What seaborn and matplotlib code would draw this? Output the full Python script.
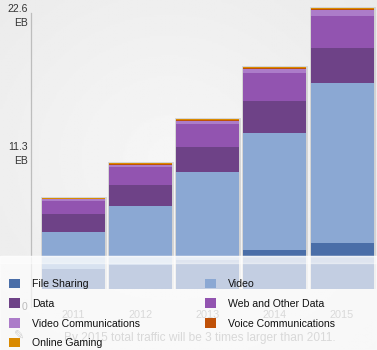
import numpy as np
import pandas as pd
import matplotlib
matplotlib.use("Agg")
import matplotlib.pyplot as plt
from matplotlib.patches import Rectangle
import seaborn as sns

# Traffic by application type, exabytes per month
years = ["2011", "2012", "2013", "2014", "2015"]
file_sharing = [1.60, 2.00, 2.40, 3.19, 3.77]
video = [3.09, 4.80, 7.16, 9.61, 13.08]
data = [1.45, 1.72, 2.10, 2.62, 2.87]
web_other = [1.06, 1.50, 1.88, 2.24, 2.65]
video_comm = [0.15, 0.14, 0.23, 0.37, 0.46]
voice_comm = [0.06, 0.06, 0.06, 0.06, 0.07]
online_gaming = [0.08, 0.08, 0.09, 0.09, 0.10]

series = [
    ("File Sharing", file_sharing, "#4a6ea8"),
    ("Video", video, "#8ba8d3"),
    ("Data", data, "#6e4287"),
    ("Web and Other Data", web_other, "#9254b0"),
    ("Video Communications", video_comm, "#ac7cc9"),
    ("Voice Communications", voice_comm, "#bf5108"),
    ("Online Gaming", online_gaming, "#d98a00"),
]
ytick_vals = [0, 11.3, 22.6]
ytick_labels = ["\n\n0", "11.3\nEB", "22.6\nEB"]
note = "By 2015 total traffic will be 3 times larger than 2011."

sns.set_theme(style="white")
plt.rcParams["font.family"] = ["Liberation Sans", "DejaVu Sans"]

W, H = 377, 350
fig = plt.figure(figsize=(W / 100, H / 100), dpi=100)
fig.patch.set_facecolor("#e9e9e9")

# soft radial background
bg = fig.add_axes([0, 0, 1, 1], zorder=-5)
yy, xx = np.mgrid[0:1:200j, 0:1:200j]
r = np.sqrt(((xx - 0.45) / 0.9) ** 2 + ((yy - 0.55) / 0.9) ** 2)
bg.imshow(0.965 - 0.06 * np.clip(r, 0, 1), cmap="gray", vmin=0, vmax=1,
          extent=[0, 1, 0, 1], aspect="auto", origin="lower")
bg.set_axis_off()

# plot area: x from px 31 to 377, zero line at px 289
ax = fig.add_axes([31 / W, (H - 289) / H, 346 / W, (289 - 5) / H])
ax.patch.set_alpha(0)

df = pd.DataFrame({"year": years})
totals = np.zeros(len(years))
for _, vals, _ in series:
    totals += np.array(vals)

bw = 0.94
# faint outline behind each stacked bar
sns.barplot(x=df["year"], y=totals, ax=ax, color="none", width=bw,
            edgecolor="#d2d2d2", linewidth=2.0, zorder=1)

bottom = np.zeros(len(years))
for name, vals, col in series:
    sns.barplot(x=df["year"], y=np.array(vals), bottom=bottom, ax=ax,
                color=col, width=bw, linewidth=0, saturation=1, zorder=2)
    bottom += np.array(vals)

ax.set_xlim(-0.633, 4.52)
ax.set_ylim(0, (289 - 5) / 12.21)
ax.set_xlabel("")
ax.set_ylabel("")
ax.set_yticks(ytick_vals)
ax.set_yticklabels(ytick_labels, fontsize=7.5, color="#333333",
                   linespacing=1.55)
for lab in ax.get_yticklabels():
    lab.set_horizontalalignment("right")
ax.tick_params(axis="y", length=0, pad=2.5)
ax.tick_params(axis="x", length=0, pad=15, labelsize=7.8, labelcolor="#8c8c8c")
for s in ["top", "right", "bottom"]:
    ax.spines[s].set_visible(False)
ax.spines["left"].set_color("#bdbdbd")
ax.spines["left"].set_linewidth(0.9)
ax.spines["left"].set_bounds(-1.5, 22.6)

# caption beneath the chart
fig.text(200 / W, 1 - 338 / H, note, ha="center", va="center",
         fontsize=8.6, color="#8c8c8c", zorder=0.5)
fig.text(19 / W, 1 - 335 / H, "\u270e", ha="center", va="center",
         fontsize=9, color="#7a7a7a", family="DejaVu Sans", zorder=0.5)

# translucent legend panel
fig.patches.append(Rectangle((0, 0), 1, (H - 256) / H, transform=fig.transFigure,
                             facecolor="white", alpha=0.67, zorder=1))
fig.patches.append(Rectangle((0, (H - 263) / H), 1, 7 / H, transform=fig.transFigure,
                             facecolor="white", alpha=0.45, zorder=1.1))

handles = {name: Rectangle((0, 0), 1, 1, facecolor=col, edgecolor="none")
           for name, _, col in series}
order = ["File Sharing", "Data", "Video Communications", "Online Gaming",
         "Video", "Web and Other Data", "Voice Communications"]
leg = fig.legend([handles[n] for n in order], order, ncol=2,
                 loc="upper left", bbox_to_anchor=(9 / W, 1 - 278.5 / H),
                 frameon=False, fontsize=7.6, handlelength=1.0,
                 handleheight=1.0, handletextpad=1.15, labelspacing=0.9,
                 columnspacing=6.2, borderpad=0, borderaxespad=0)
leg.set_zorder(5)
for t in leg.get_texts():
    t.set_color("#111111")

fig.savefig("out.png", dpi=100)
